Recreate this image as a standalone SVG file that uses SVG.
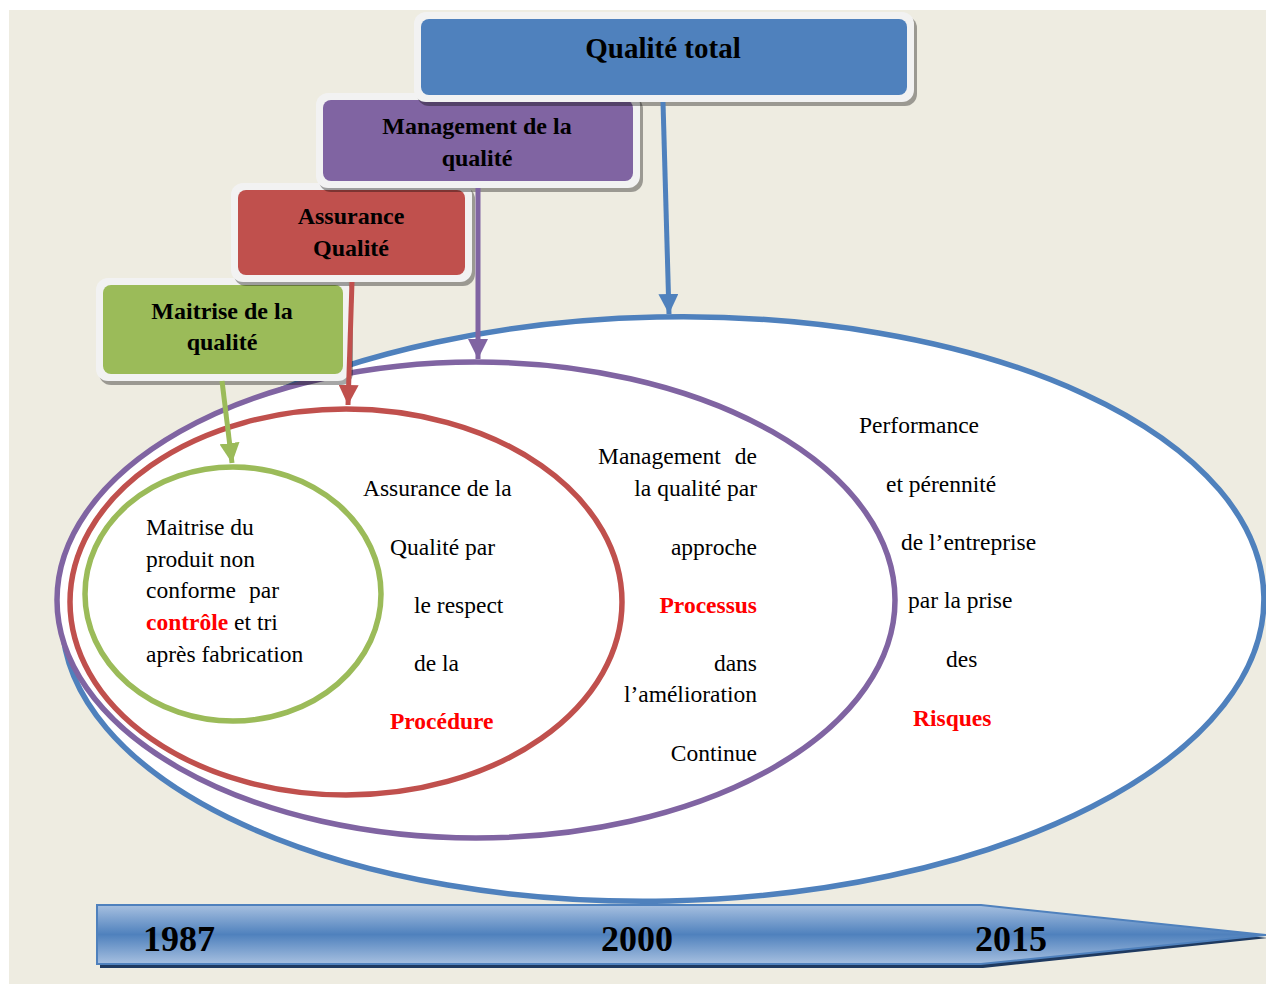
<svg xmlns="http://www.w3.org/2000/svg" width="1266" height="984" viewBox="0 0 1266 984">
  <defs>
    <style>
      .t { font-family: "Liberation Serif", "Times New Roman", serif; font-size: 23.5px; fill: #000; }
      .red { fill: #FF0000; font-weight: bold; }
      .title { font-family: "Liberation Serif", "Times New Roman", serif; font-weight: bold; font-size: 24px; fill: #000; text-anchor: middle; }
      .year { font-family: "Liberation Serif", "Times New Roman", serif; font-weight: bold; font-size: 36px; fill: #000; }
      .frame { fill: #F2F2F2; }
      .shadow { fill: #000; opacity: 0.35; }
      .ring { fill: #FFFFFF; stroke-width: 5.5; }
      .conn { fill: none; stroke-width: 5; }
    </style>
    <linearGradient id="barFill" x1="0" y1="0" x2="0" y2="1">
      <stop offset="0" stop-color="#A7C0E0"/>
      <stop offset="0.5" stop-color="#4F81BD"/>
      <stop offset="1" stop-color="#A7C0E0"/>
    </linearGradient>
    <marker id="arrBlue" viewBox="0 0 10 10" refX="10" refY="5" markerUnits="userSpaceOnUse" markerWidth="20" markerHeight="20" orient="auto">
      <path d="M0,0 L10,5 L0,10 Z" fill="#4F81BD"/>
    </marker>
    <marker id="arrPurple" viewBox="0 0 10 10" refX="10" refY="5" markerUnits="userSpaceOnUse" markerWidth="20" markerHeight="20" orient="auto">
      <path d="M0,0 L10,5 L0,10 Z" fill="#8064A2"/>
    </marker>
    <marker id="arrRed" viewBox="0 0 10 10" refX="10" refY="5" markerUnits="userSpaceOnUse" markerWidth="20" markerHeight="20" orient="auto">
      <path d="M0,0 L10,5 L0,10 Z" fill="#C0504D"/>
    </marker>
    <marker id="arrGreen" viewBox="0 0 10 10" refX="10" refY="5" markerUnits="userSpaceOnUse" markerWidth="20" markerHeight="20" orient="auto">
      <path d="M0,0 L10,5 L0,10 Z" fill="#9BBB59"/>
    </marker>
  </defs>

  <!-- page -->
  <rect x="0" y="0" width="1266" height="984" fill="#FFFFFF"/>
  <rect x="9" y="10" width="1257" height="974" fill="#EEECE1"/>

  <!-- nested scopes -->
  <g id="scope-total">
    <ellipse class="ring" cx="663" cy="609" rx="601" ry="292" stroke="#4F81BD" transform="rotate(-1.2 663 609)"/>
  </g>
  <g id="scope-management">
    <ellipse class="ring" cx="476" cy="600" rx="419" ry="238" stroke="#8064A2"/>
  </g>
  <g id="scope-assurance">
    <ellipse class="ring" cx="346" cy="602" rx="276" ry="193" stroke="#C0504D"/>
  </g>
  <g id="scope-maitrise">
    <ellipse class="ring" cx="233" cy="594" rx="148" ry="127" stroke="#9BBB59"/>
  </g>

  <!-- descriptions -->
  <g id="text-maitrise">
    <text class="t" x="146" y="535">Maitrise du</text>
    <text class="t" x="146" y="567">produit non</text>
    <text class="t" x="146" y="598">conforme</text>
    <text class="t" x="249" y="598">par</text>
    <text class="t" x="146" y="630"><tspan class="red">contrôle</tspan> et tri</text>
    <text class="t" x="146" y="662">après fabrication</text>
  </g>
  <g id="text-assurance">
    <text class="t" x="363" y="496">Assurance de la</text>
    <text class="t" x="390" y="555">Qualité par</text>
    <text class="t" x="414" y="613">le respect</text>
    <text class="t" x="414" y="671">de la</text>
    <text class="t red" x="390" y="729">Procédure</text>
  </g>
  <g id="text-management" text-anchor="end">
    <text class="t" x="598" y="464" text-anchor="start">Management</text>
    <text class="t" x="757" y="464">de</text>
    <text class="t" x="757" y="496">la qualité par</text>
    <text class="t" x="757" y="555">approche</text>
    <text class="t red" x="757" y="613">Processus</text>
    <text class="t" x="757" y="671">dans</text>
    <text class="t" x="757" y="702">l’amélioration</text>
    <text class="t" x="757" y="761">Continue</text>
  </g>
  <g id="text-total">
    <text class="t" x="859" y="433">Performance</text>
    <text class="t" x="886" y="492">et pérennité</text>
    <text class="t" x="901" y="550">de l’entreprise</text>
    <text class="t" x="908" y="608">par la prise</text>
    <text class="t" x="946" y="667">des</text>
    <text class="t red" x="913" y="726">Risques</text>
  </g>

  <!-- timeline -->
  <g id="timeline">
    <path d="M100,908 L983,908 L1269,938 L983,968 L100,968 Z" fill="#1F3A60"/>
    <path d="M97,905 L981,905 L1266,935 L981,964 L97,964 Z" fill="url(#barFill)" stroke="#4F81BD" stroke-width="2"/>
    <text class="year" x="143" y="951">1987</text>
    <text class="year" x="601" y="951">2000</text>
    <text class="year" x="975" y="951">2015</text>
  </g>

  <!-- stage labels -->
  <g id="node-maitrise">
    <rect class="shadow" x="99" y="282" width="254" height="103" rx="12"/>
    <rect class="frame" x="96" y="278" width="254" height="103" rx="12"/>
    <rect x="103" y="285" width="240" height="89" rx="8" fill="#9BBB59"/>
    <text class="title" x="222" y="319">Maitrise de la</text>
    <text class="title" x="222" y="350">qualité</text>
  </g>
  <g id="node-assurance">
    <rect class="shadow" x="234" y="187" width="241" height="99" rx="12"/>
    <rect class="frame" x="231" y="183" width="241" height="99" rx="12"/>
    <rect x="238" y="190" width="227" height="85" rx="8" fill="#C0504D"/>
    <text class="title" x="351" y="224">Assurance</text>
    <text class="title" x="351" y="256">Qualité</text>
  </g>
  <g id="node-management">
    <rect class="shadow" x="319" y="97" width="324" height="95" rx="12"/>
    <rect class="frame" x="316" y="93" width="324" height="95" rx="12"/>
    <rect x="323" y="100" width="310" height="81" rx="8" fill="#8064A2"/>
    <text class="title" x="477" y="134">Management de la</text>
    <text class="title" x="477" y="166">qualité</text>
  </g>
  <g id="node-total">
    <rect class="shadow" x="417" y="16" width="500" height="90" rx="12"/>
    <rect class="frame" x="414" y="12" width="500" height="90" rx="12"/>
    <rect x="421" y="19" width="486" height="76" rx="8" fill="#4F81BD"/>
    <text class="title" x="663" y="58" style="font-size:29px">Qualité total</text>
  </g>

  <!-- connectors -->
  <g id="connectors">
    <path class="conn" d="M663,102 L669,314" stroke="#4F81BD" marker-end="url(#arrBlue)"/>
    <path class="conn" d="M478,188 L478,359" stroke="#8064A2" marker-end="url(#arrPurple)"/>
    <path class="conn" d="M352,282 L348,405" stroke="#C0504D" marker-end="url(#arrRed)"/>
    <path class="conn" d="M222,381 L232,463" stroke="#9BBB59" marker-end="url(#arrGreen)"/>
  </g>
</svg>
